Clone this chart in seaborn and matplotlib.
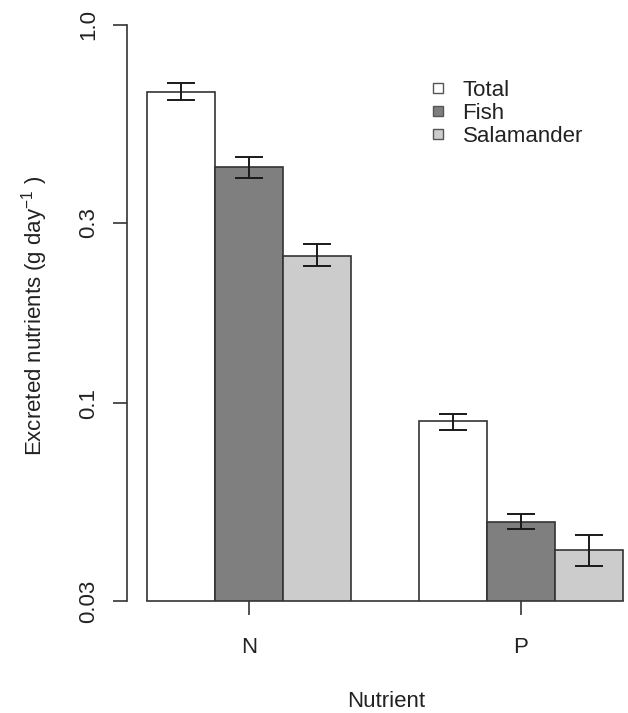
import matplotlib
matplotlib.use("Agg")
import matplotlib.pyplot as plt
from matplotlib.lines import Line2D
import seaborn as sns
import pandas as pd

nutrients = ["N", "P"]
sources = ["Total", "Fish", "Salamander"]
values = {"Total": [0.665, 0.0899], "Fish": [0.421, 0.0485], "Salamander": [0.245, 0.0409]}
lower = {"Total": [0.635, 0.0848], "Fish": [0.395, 0.0465], "Salamander": [0.2306, 0.0372]}
upper = {"Total": [0.701, 0.0935], "Fish": [0.447, 0.0509], "Salamander": [0.264, 0.0448]}
colors = {"Total": "#ffffff", "Fish": "#7f7f7f", "Salamander": "#cccccc"}
yticks = [0.03, 0.1, 0.3, 1.0]
ytick_labels = ["0.03", "0.1", "0.3", "1.0"]

rows = []
for s in sources:
    for n, v in zip(nutrients, values[s]):
        rows.append({"Nutrient": n, "Source": s, "value": v})
df = pd.DataFrame(rows)

sns.set_theme(style="white")
plt.rcParams["font.family"] = ["Liberation Sans", "DejaVu Sans"]
plt.rcParams["mathtext.fontset"] = "custom"
plt.rcParams["mathtext.rm"] = "Liberation Sans"
plt.rcParams["mathtext.it"] = "Liberation Sans:italic"
plt.rcParams["mathtext.bf"] = "Liberation Sans:bold"
plt.rcParams["text.color"] = "#222222"
plt.rcParams["axes.labelcolor"] = "#222222"

fs = 16
fig = plt.figure(figsize=(6.28, 7.13), dpi=100)
ax = fig.add_axes([127 / 628, 1 - 601 / 713, 500 / 628, (601 - 25) / 713])

sns.barplot(data=df, x="Nutrient", y="value", hue="Source", order=nutrients,
            hue_order=sources, palette=colors, width=0.75, errorbar=None,
            edgecolor="#333333", linewidth=1.2, legend=False, ax=ax, saturation=1)

ax.set_yscale("log")
ax.set_ylim(0.03, 1.0)
ax.set_xlim(-0.4485, 1.39)

for cont, s in zip(ax.containers, sources):
    for bar, v, lo, hi in zip(cont, values[s], lower[s], upper[s]):
        xc = bar.get_x() + bar.get_width() / 2
        ax.errorbar([xc], [v], yerr=[[v - lo], [hi - v]], fmt="none",
                    ecolor="#1a1a1a", elinewidth=1.4, capsize=10, capthick=1.4)

ax.set_yticks(yticks)
ax.set_yticks([], minor=True)
ax.set_yticklabels(ytick_labels, rotation=90, va="center", fontsize=fs)
ax.set_xticks([0, 1])
ax.set_xticklabels(nutrients, fontsize=fs)
ax.tick_params(axis="y", which="major", left=True, length=10, width=1.2, pad=10,
               color="#333333", labelcolor="#222222")
ax.tick_params(axis="x", which="major", bottom=True, length=10, width=1.2, pad=16,
               color="#333333", labelcolor="#222222")

for side in ["top", "right"]:
    ax.spines[side].set_visible(False)
for side in ["left", "bottom"]:
    ax.spines[side].set_color("#333333")
    ax.spines[side].set_linewidth(1.2)
ax.spines["bottom"].set_bounds(-0.375, 1.375)

ax.set_ylabel(r"Excreted nutrients (g day$^{-1}$ )", fontsize=fs, labelpad=20, y=0.495)
ax.set_xlabel("Nutrient", fontsize=fs, labelpad=24, x=0.518)

handles = [Line2D([], [], marker="s", ls="none", markersize=7,
                  markerfacecolor=colors[s], markeredgecolor="#555555",
                  markeredgewidth=1.0) for s in sources]
ax.legend(handles, sources, loc="upper left", frameon=False, fontsize=fs,
          bbox_to_anchor=(427 / 628, 1 - 80 / 713), bbox_transform=fig.transFigure,
          borderpad=0, borderaxespad=0, handlelength=1.0, handletextpad=0.6,
          labelspacing=0.08)

fig.savefig("out.png", dpi=100, facecolor="white")
